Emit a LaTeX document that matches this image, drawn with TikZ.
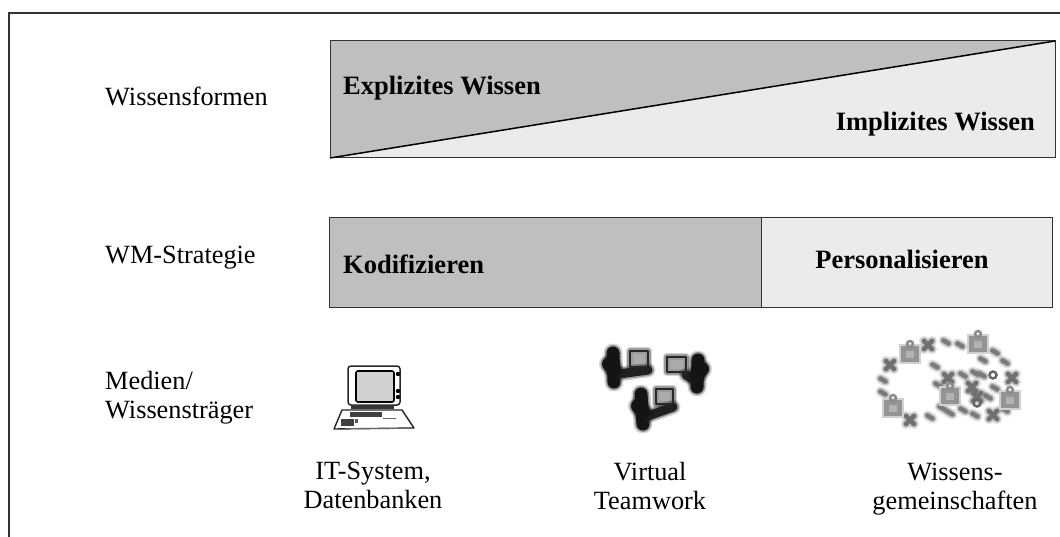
\documentclass[tikz,border=0pt]{standalone}
\usepackage{fontspec}
\setmainfont{Liberation Serif}
\definecolor{darkband}{gray}{0.75}
\definecolor{lightband}{gray}{0.92}
\definecolor{lineink}{gray}{0.2}
\definecolor{screen}{gray}{0.82}
\tikzset{
  x=1pt,y=-1pt,
  label/.style={font=\fontsize{26.3}{29}\selectfont,inner sep=0pt,align=center,text=black},
  boldlabel/.style={font=\fontsize{26.5}{30}\selectfont\bfseries,inner sep=0pt,text=black},
  band/.style={draw=lineink,line width=1pt},
  frame/.style={draw=lineink,line width=1.3pt},
}
\newcommand{\softline}[3]{%
  \draw[line cap=round,line join=round,draw=black!#2,opacity=.18,line width=#1pt+6pt] #3;
  \draw[line cap=round,line join=round,draw=black!#2,opacity=.35,line width=#1pt+3pt] #3;
  \draw[line cap=round,line join=round,draw=black!#2,line width=#1pt] #3;}
\newcommand{\dabblob}[2]{\softline{4.5}{52}{(#1-2.5,#2-1.5) -- (#1+2.5,#2+1.5)}}
\newcommand{\crossblob}[2]{\softline{4.5}{56}{(#1-4,#2-4) -- (#1+4,#2+4) (#1+4,#2-4) -- (#1-4,#2+4)}}
\newcommand{\padlock}[2]{%
  \fill[black!18] (#1-11,#2-10) rectangle (#1+11,#2+10);
  \fill[black!42] (#1-9,#2-8) rectangle (#1+9,#2+8);
  \fill[black!30] (#1-4,#2-3) rectangle (#1+4,#2+4);
  \draw[black!45,line width=2.5pt] (#1,#2-10) circle (3);}
% head x,y ; shoulder x,y ; foot x,y ; then monitor outline, screen inset on far side
\newcommand{\deskperson}[9]{%
  \softline{13}{92}{(#1,#2) -- (#3,#4)}
  \softline{9}{88}{(#3,#4-14) -- (#3+#9*5,#4-8) -- (#7,#8+3)}
  \softline{2.5}{85}{(#5,#6) rectangle (#7,#8)}
  \softline{14}{92}{(#3-#9*5,#4-18) -- (#3,#4-12)}
  \fill[black!33] (#5+3,#6+3) rectangle (#7-3,#8-3);}
\begin{document}
\begin{tikzpicture}
\useasboundingbox (0,0) rectangle (1060,537);
\coordinate (frameTR) at (1060,13);
\coordinate (frameTL) at (9,13);
\coordinate (frameBL) at (9,537);
\draw[frame] (frameTR) -- (frameTL) -- (frameBL);

% band 1
\coordinate (aTL) at (330,41);
\coordinate (aTR) at (1055,41);
\coordinate (aBR) at (1055,158);
\coordinate (aBL) at (330,158);
\fill[lightband] (aTL) -- (aTR) -- (aBR) -- (aBL) -- cycle;
\fill[darkband] (aTL) -- (aTR) -- (aBL) -- cycle;
\draw[band] (aTL) -- (aTR) -- (aBR) -- (aBL) -- cycle;
\draw[draw=black,line width=1.5pt] (aBL) -- (aTR);

% band 2
\node[band,fill=darkband,minimum width=432pt,minimum height=90pt,anchor=north west,inner sep=0pt] (kod) at (329,217) {};
\node[band,fill=lightband,minimum width=291pt,minimum height=90pt,anchor=north west,inner sep=0pt] (per) at (761,217) {};

% texts
\node[label,anchor=west] (t1) at (105,96.5) {Wissensformen};
\node[label,anchor=west] (t2) at (105,258) {WM-Strategie};
\node[label,anchor=north west,align=left] (t3) at (105,371) {Medien/\\Wissensträger};
\node[boldlabel,anchor=west] (b1) at (343,88) {Explizites Wissen};
\node[boldlabel,anchor=east] (b2) at (1035,124) {Implizites Wissen};
\node[boldlabel,anchor=west] (b3) at (343,264) {Kodifizieren};
\node[boldlabel] (b4) at (902,259) {Personalisieren};
\node[label] (c1) at (373,485.5) {IT-System,\\Datenbanken};
\node[label] (c2) at (650,486.5) {Virtual\\Teamwork};
\node[label] (c3) at (955,489.5) {Wissens-\\gemeinschaften};

% computer icon
\draw[fill=white,draw=black!85,line width=1.5pt,rounded corners=3pt] (348,366) rectangle (400,405);
\draw[fill=screen,draw=black,line width=1.6pt,rounded corners=2pt] (356,371) rectangle (394,402);
\fill[black] (398,374) circle (2.2);
\fill[black] (398,391) circle (2.2);
\fill[black] (398,397) circle (2.2);
\fill[black!80] (351,405) rectangle (394,409);
\draw[fill=white,draw=black!85,line width=1.4pt,line join=round] (342,410) -- (402,410) -- (414,428) -- (334,429) -- cycle;
\fill[black!75] (350,412) rectangle (382,417);
\fill[black!75] (341,419) rectangle (354,426);
\fill[black!65] (355,419) rectangle (358,423);
\draw[black!60,line width=.8pt] (383,418) -- (396,418);
\draw[black!60,line width=1pt] (345,428) -- (410,428);

% team icon
\deskperson{613}{353}{614}{382}{630}{351}{648}{367}{1}
\deskperson{698}{360}{697}{387}{667}{357}{686}{372}{-1}
\deskperson{641}{394}{643}{424}{656}{389}{673}{404}{1}

% community icon
\foreach \x/\y in {946/342,960/345,995/352,1005/362,983/360,883/380,883/393,935/366,963/375,975/373,982/375,938/385,988/397,995/388,942/408,950/413,963/410,975/415,1005/410,930/417}{\dabblob{\x}{\y}}
\foreach \x/\y in {928/345,890/365,948/378,1012/378,972/387,977/397,993/415,910/420}{\crossblob{\x}{\y}}
\padlock{910}{354}
\padlock{978}{344}
\padlock{893}{408}
\padlock{1010}{400}
\padlock{950}{396}
\draw[black!60,line width=2.5pt] (993,375) circle (3.5);
\draw[black!60,line width=2.5pt] (977,403) circle (3.5);
\end{tikzpicture}
\end{document}
